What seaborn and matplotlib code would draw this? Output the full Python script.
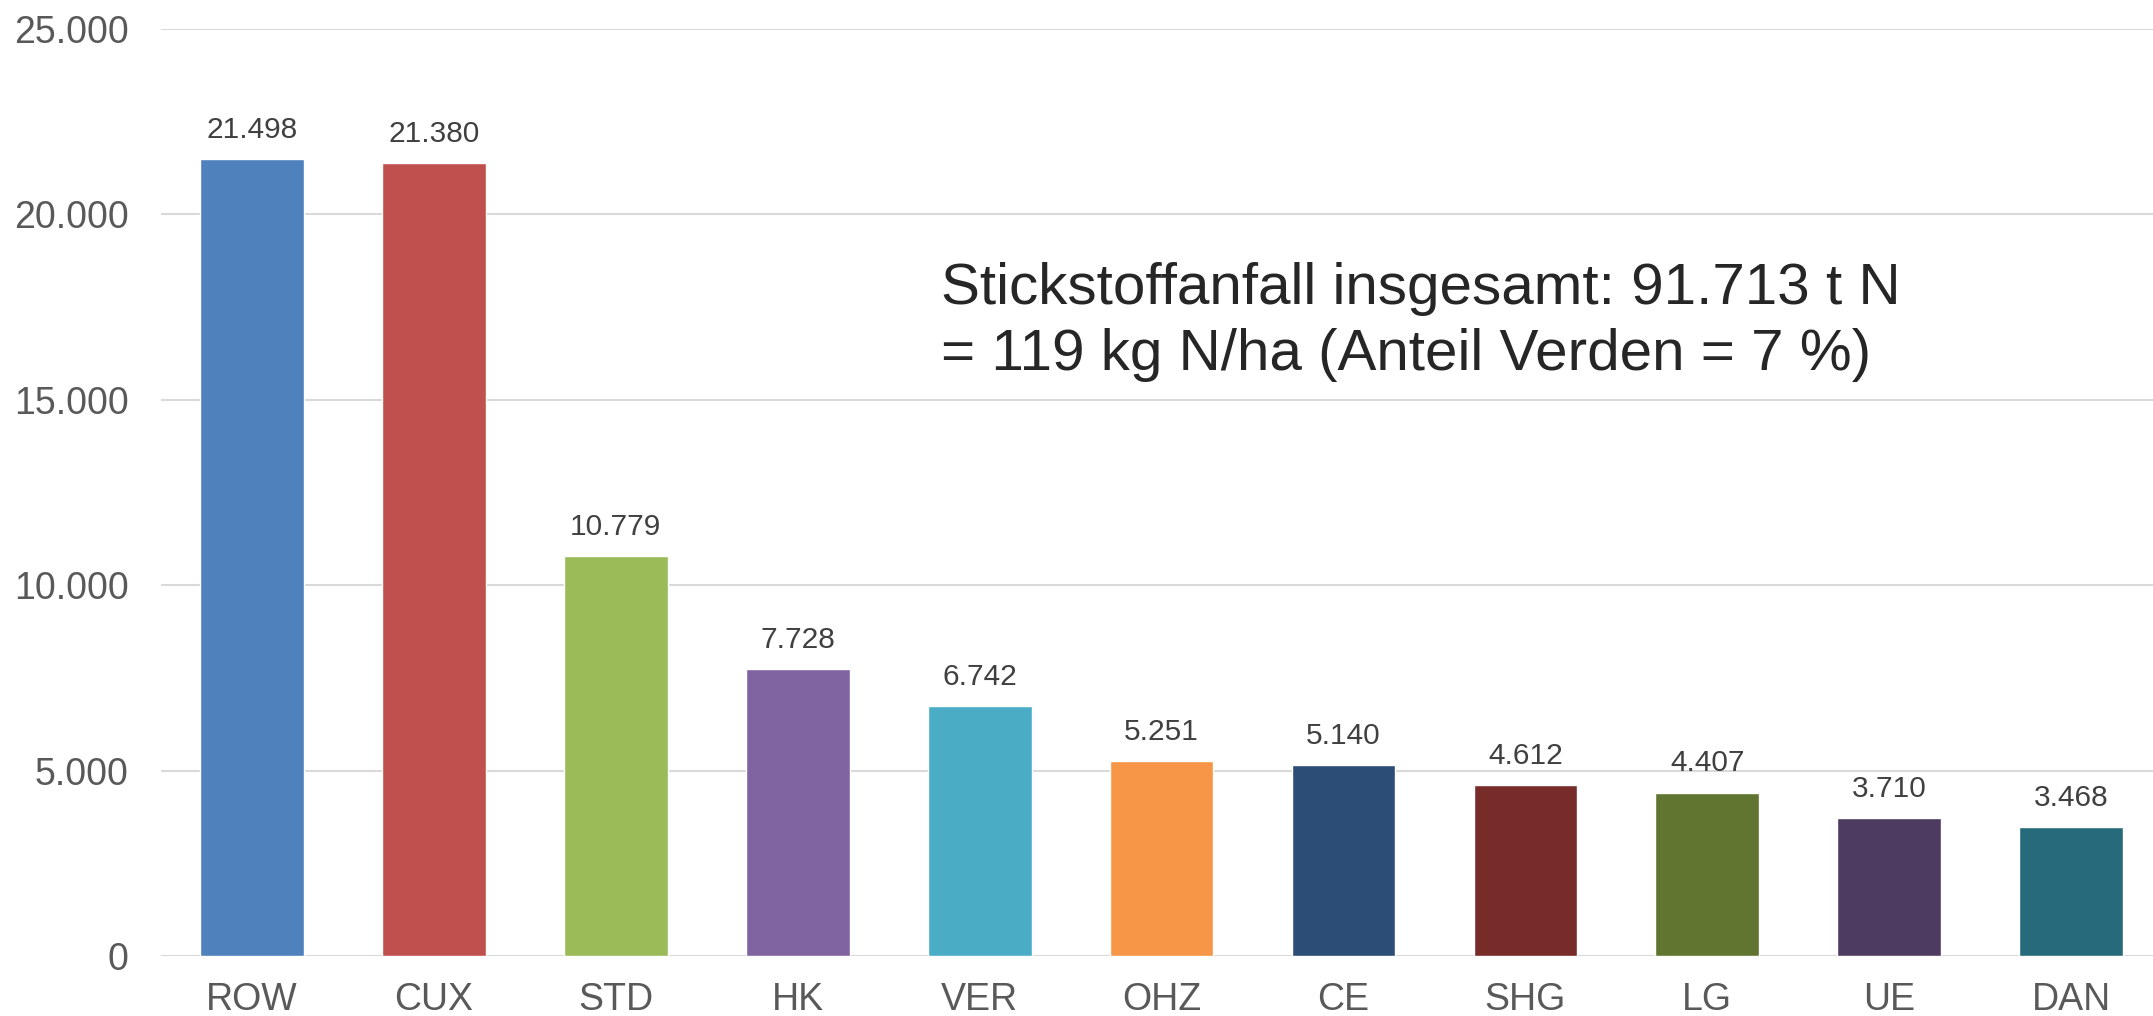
import matplotlib
matplotlib.use("Agg")
import matplotlib.pyplot as plt
import seaborn as sns
import pandas as pd
from matplotlib.ticker import FuncFormatter

# Stickstoffanfall je Landkreis (t N)
kreise = ['ROW', 'CUX', 'STD', 'HK', 'VER', 'OHZ', 'CE', 'SHG', 'LG', 'UE', 'DAN']
werte = [21498, 21380, 10779, 7728, 6742, 5251, 5140, 4612, 4407, 3710, 3468]
farben = ['#4F81BD', '#C0504D', '#9BBB59', '#8064A2', '#4BACC6', '#F79646',
          '#2C4D75', '#772C2A', '#5F7530', '#4D3B62', '#276A7C']
info_text = 'Stickstoffanfall insgesamt: 91.713 t N\n= 119 kg N/ha (Anteil Verden = 7 %)'


def de_fmt(v, pos=None):
    return f"{int(round(v)):,}".replace(',', '.')


if __name__ == '__main__':
    sns.set_style('white')
    plt.rcParams['font.family'] = ['Liberation Sans', 'DejaVu Sans']

    data = pd.DataFrame({'kreis': kreise, 'wert': werte})

    fig = plt.figure(figsize=(21.53, 10.16), dpi=100)
    ax = fig.add_axes([0.0748, 0.059, 0.9252, 0.9125])

    sns.barplot(data=data, x='kreis', y='wert', hue='kreis', palette=farben,
                legend=False, width=0.57, saturation=1, ax=ax, zorder=3)

    for c in ax.containers:
        ax.bar_label(c, labels=[de_fmt(v) for v in c.datavalues], padding=11,
                     fontsize=21.5, color='#404040')

    ax.set_ylim(0, 25000)
    ax.set_xlim(-0.5, 10.45)
    ax.set_yticks(range(0, 25001, 5000))
    ax.yaxis.set_major_formatter(FuncFormatter(de_fmt))
    ax.grid(axis='y', color='#D9D9D9', linewidth=1.5, zorder=0)
    ax.set_axisbelow(True)
    for s in ax.spines.values():
        s.set_visible(False)
    ax.tick_params(axis='both', length=0, labelsize=27, labelcolor='#595959')
    ax.tick_params(axis='y', pad=23.5)
    ax.tick_params(axis='x', pad=18.5)
    ax.set_xlabel('')
    ax.set_ylabel('')

    ax.text(3.79, 18716, info_text, fontsize=42, color='#262626',
            ha='left', va='top', linespacing=1.28)

    fig.savefig('out.png', dpi=100)
